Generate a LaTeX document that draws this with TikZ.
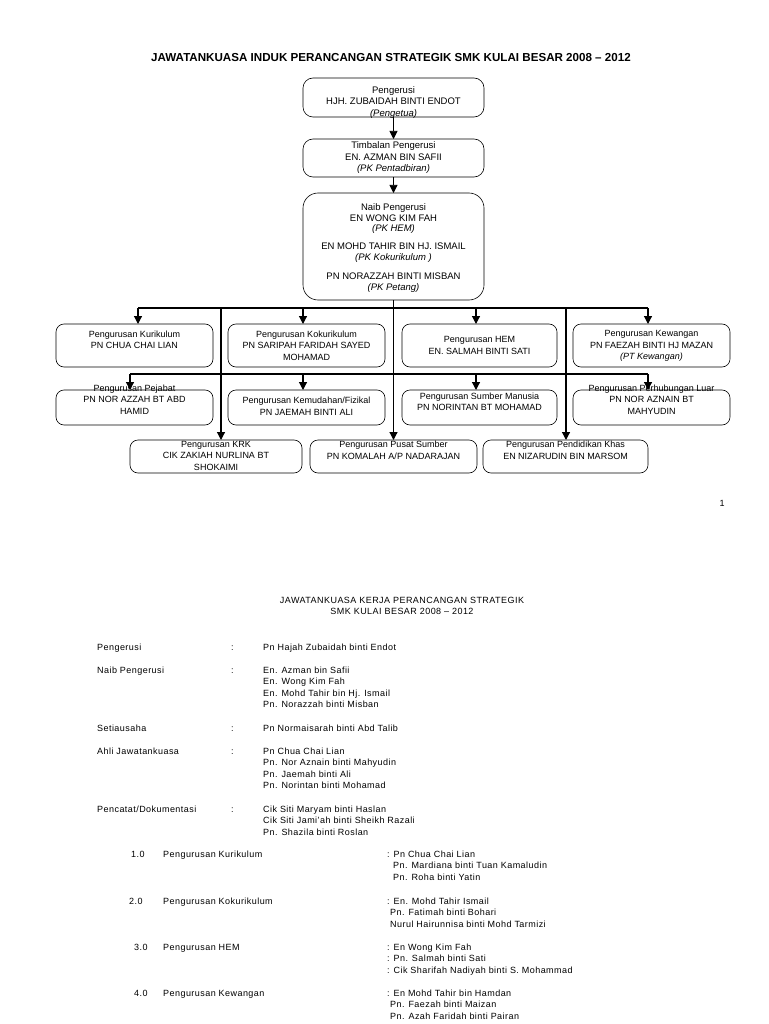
\documentclass[tikz,border=0pt]{standalone}
\usepackage{fontspec}
\setmainfont{Liberation Sans}
\newfontfamily\listfont[LetterSpace=5]{Liberation Sans}
\usetikzlibrary{arrows.meta}
\begin{document}
\begin{tikzpicture}[x=1pt,y=-1pt,
  box/.style={draw=black, line width=0.6pt, rounded corners=8pt, inner sep=0pt, outer sep=0pt, anchor=north west},
  txt/.style={inner sep=0pt, align=center, anchor=north, font=\fontsize{9}{11.4}\selectfont},
  toptxt/.style={txt, font=\fontsize{9.5}{11.5}\selectfont},
  arr/.style={line width=1.2pt, -{Triangle[width=8pt,length=8pt]}},
  toparr/.style={line width=0.7pt, -{Triangle[width=8pt,length=8pt]}},
  bus/.style={line width=1.6pt},
  lst/.style={inner sep=0pt, align=left, anchor=north west, font=\listfont\fontsize{9}{11.5}\selectfont},
]
\fill[white] (0,0) rectangle (768,1024);
\useasboundingbox (0,0) rectangle (768,1024);

% ---------- title ----------
\node[inner sep=0pt, font=\bfseries\fontsize{11.6}{13}\selectfont] (title) at (391,58)
  {JAWATANKUASA INDUK PERANCANGAN STRATEGIK SMK KULAI BESAR 2008 – 2012};

% ---------- top boxes ----------
\node[box, rounded corners=10pt, minimum width=181pt, minimum height=39pt] (peng) at (303,78) {};
\node[toptxt] (pengt) at (393.5,86.3) {Pengerusi\\HJH. ZUBAIDAH BINTI ENDOT\\\textit{(Pengetua)}};

\node[box, rounded corners=10pt, minimum width=181pt, minimum height=38pt] (timb) at (303,139) {};
\node[toptxt] (timbt) at (393.5,141.8) {Timbalan Pengerusi\\EN. AZMAN BIN SAFII\\\textit{(PK Pentadbiran)}};

\node[box, rounded corners=15pt, minimum width=181pt, minimum height=107pt] (naib) at (303,193) {};
\node[txt, font=\fontsize{9.5}{10.6}\selectfont] (naibt) at (393.5,203.4)
  {Naib Pengerusi\\EN WONG KIM FAH\\\textit{(PK HEM)}\\[7.5pt]EN MOHD TAHIR BIN HJ. ISMAIL\\\textit{(PK Kokurikulum )}\\[8.5pt]PN NORAZZAH BINTI MISBAN\\\textit{(PK Petang)}};

% ---------- row 1 ----------
\node[box, minimum width=157pt, minimum height=43pt] (kuri) at (56,324) {};
\node[txt] (kurit) at (134.5,330.6) {Pengurusan Kurikulum\\PN CHUA CHAI LIAN};

\node[box, minimum width=157pt, minimum height=43pt] (koku) at (228,324) {};
\node[txt] (kokut) at (306.5,330.6) {Pengurusan Kokurikulum\\PN SARIPAH FARIDAH SAYED\\MOHAMAD};

\node[box, minimum width=155pt, minimum height=43pt] (hem) at (402,324) {};
\node[txt] (hemt) at (479.5,336.6) {Pengurusan HEM\\EN. SALMAH BINTI SATI};

\node[box, minimum width=157pt, minimum height=43pt] (kew) at (573,324) {};
\node[txt] (kewt) at (651.5,330.6) {Pengurusan Kewangan\\PN FAEZAH BINTI HJ MAZAN\\\textit{(PT Kewangan)}};

% ---------- row 2 ----------
\node[box, minimum width=157pt, minimum height=35pt] (pej) at (56,390) {};
\node[txt] (pejt) at (134.5,384.6) {Pengurusan Pejabat\\PN NOR AZZAH BT ABD\\HAMID};

\node[box, minimum width=157pt, minimum height=35pt] (kem) at (228,390) {};
\node[txt] (kemt) at (306.5,397.1) {Pengurusan Kemudahan/Fizikal\\PN JAEMAH BINTI ALI};

\node[box, minimum width=155pt, minimum height=35pt] (sum) at (402,390) {};
\node[txt] (sumt) at (479.5,392.6) {Pengurusan Sumber Manusia\\PN NORINTAN BT MOHAMAD};

\node[box, minimum width=157pt, minimum height=35pt] (luar) at (573,390) {};
\node[txt] (luart) at (651.5,384.6) {Pengurusan Perhubungan Luar\\PN NOR AZNAIN BT\\MAHYUDIN};

% ---------- row 3 ----------
\node[box, minimum width=172pt, minimum height=33pt] (krk) at (130,440) {};
\node[txt] (krkt) at (216,441.1) {Pengurusan KRK\\CIK ZAKIAH NURLINA BT\\SHOKAIMI};

\node[box, minimum width=167pt, minimum height=33pt] (pusat) at (310,440) {};
\node[txt] (pusatt) at (393.5,441.1) {Pengurusan Pusat Sumber\\PN KOMALAH A/P NADARAJAN};

\node[box, minimum width=165pt, minimum height=33pt] (khas) at (483,440) {};
\node[txt] (khast) at (565.5,441.1) {Pengurusan Pendidikan Khas\\EN NIZARUDIN BIN MARSOM};

% ---------- connectors ----------
\draw[toparr] (peng.south) -- (timb.north);
\draw[toparr] (timb.south) -- (naib.north);

\coordinate (b1a) at (138,308);
\coordinate (b1b) at (648,308);
\coordinate (b1c) at (303,308);
\coordinate (b1d) at (476,308);
\coordinate (b1e) at (221,308);
\coordinate (b1f) at (566,308);
\coordinate (b2a) at (130,374);
\coordinate (b2b) at (648,374);
\coordinate (b2c) at (303,374);
\coordinate (b2d) at (476,374);

\draw[bus] (b1a) -- (b1b);
\draw[bus] (b2a) -- (b2b);

\draw[arr] (naib.south) -- (pusat.north);

\draw[arr] (b1a) -- (b1a |- kuri.north);
\draw[arr] (b1c) -- (b1c |- koku.north);
\draw[arr] (b1d) -- (b1d |- hem.north);
\draw[arr] (b1b) -- (b1b |- kew.north);

\draw[arr] (b2a) -- (b2a |- pej.north);
\draw[arr] (b2c) -- (b2c |- kem.north);
\draw[arr] (b2d) -- (b2d |- sum.north);
\draw[arr] (b2b) -- (b2b |- luar.north);

\draw[arr] (b1e) -- (b1e |- krk.north);
\draw[arr] (b1f) -- (b1f |- khas.north);

% page number
\node[inner sep=0pt, font=\fontsize{9}{11}\selectfont] (pgno) at (722,503) {1};

% ---------- second page: list ----------
\node[lst, align=center, anchor=north] (title2) at (402,596.6)
  {JAWATANKUASA KERJA PERANCANGAN STRATEGIK\\SMK KULAI BESAR 2008 – 2012};

\node[lst] (l1) at (97,643.6) {Pengerusi};
\node[lst] (c1) at (231,643.6) {\vphantom{Pl}:};
\node[lst] (n1) at (263,643.6) {Pn Hajah Zubaidah binti Endot};

\node[lst] (l2) at (97,666.6) {Naib Pengerusi};
\node[lst] (c2) at (231,666.6) {\vphantom{Pl}:};
\node[lst] (n2) at (263,666.6) {En. Azman bin Safii\\En. Wong Kim Fah\\En. Mohd Tahir bin Hj. Ismail\\Pn. Norazzah binti Misban};

\node[lst] (l3) at (97,724.6) {Setiausaha};
\node[lst] (c3) at (231,724.6) {\vphantom{Pl}:};
\node[lst] (n3) at (263,724.6) {Pn Normaisarah binti Abd Talib};

\node[lst] (l4) at (97,747.6) {Ahli Jawatankuasa};
\node[lst] (c4) at (231,747.6) {\vphantom{Pl}:};
\node[lst] (n4) at (263,747.6) {Pn Chua Chai Lian\\Pn. Nor Aznain binti Mahyudin\\Pn. Jaemah binti Ali\\Pn. Norintan binti Mohamad};

\node[lst] (l5) at (97,805.6) {Pencatat/Dokumentasi};
\node[lst] (c5) at (231,805.6) {\vphantom{Pl}:};
\node[lst] (n5) at (263,805.6) {Cik Siti Maryam binti Haslan\\Cik Siti Jami’ah binti Sheikh Razali\\Pn. Shazila binti Roslan};

% numbered sections
\node[lst] (s1n) at (131,850.6) {1.0};
\node[lst] (s1l) at (163,850.6) {Pengurusan Kurikulum};
\node[lst] (s1m) at (387,850.6) {: Pn Chua Chai Lian\\\hspace*{6pt}Pn. Mardiana binti Tuan Kamaludin\\\hspace*{6pt}Pn. Roha binti Yatin};

\node[lst] (s2n) at (129,897.6) {2.0};
\node[lst] (s2l) at (163,897.6) {Pengurusan Kokurikulum};
\node[lst] (s2m) at (387,897.6) {: En. Mohd Tahir Ismail\\\hspace*{3pt}Pn. Fatimah binti Bohari\\\hspace*{3pt}Nurul Hairunnisa binti Mohd Tarmizi};

\node[lst] (s3n) at (134,943.6) {3.0};
\node[lst] (s3l) at (163,943.6) {Pengurusan HEM};
\node[lst] (s3m) at (387,943.6) {: En Wong Kim Fah\\: Pn. Salmah binti Sati\\: Cik Sharifah Nadiyah binti S. Mohammad};

\node[lst] (s4n) at (134,989.6) {4.0};
\node[lst] (s4l) at (163,989.6) {Pengurusan Kewangan};
\node[lst] (s4m) at (387,989.6) {: En Mohd Tahir bin Hamdan\\\hspace*{3pt}Pn. Faezah binti Maizan\\\hspace*{3pt}Pn. Azah Faridah binti Pairan};
\end{tikzpicture}
\end{document}
